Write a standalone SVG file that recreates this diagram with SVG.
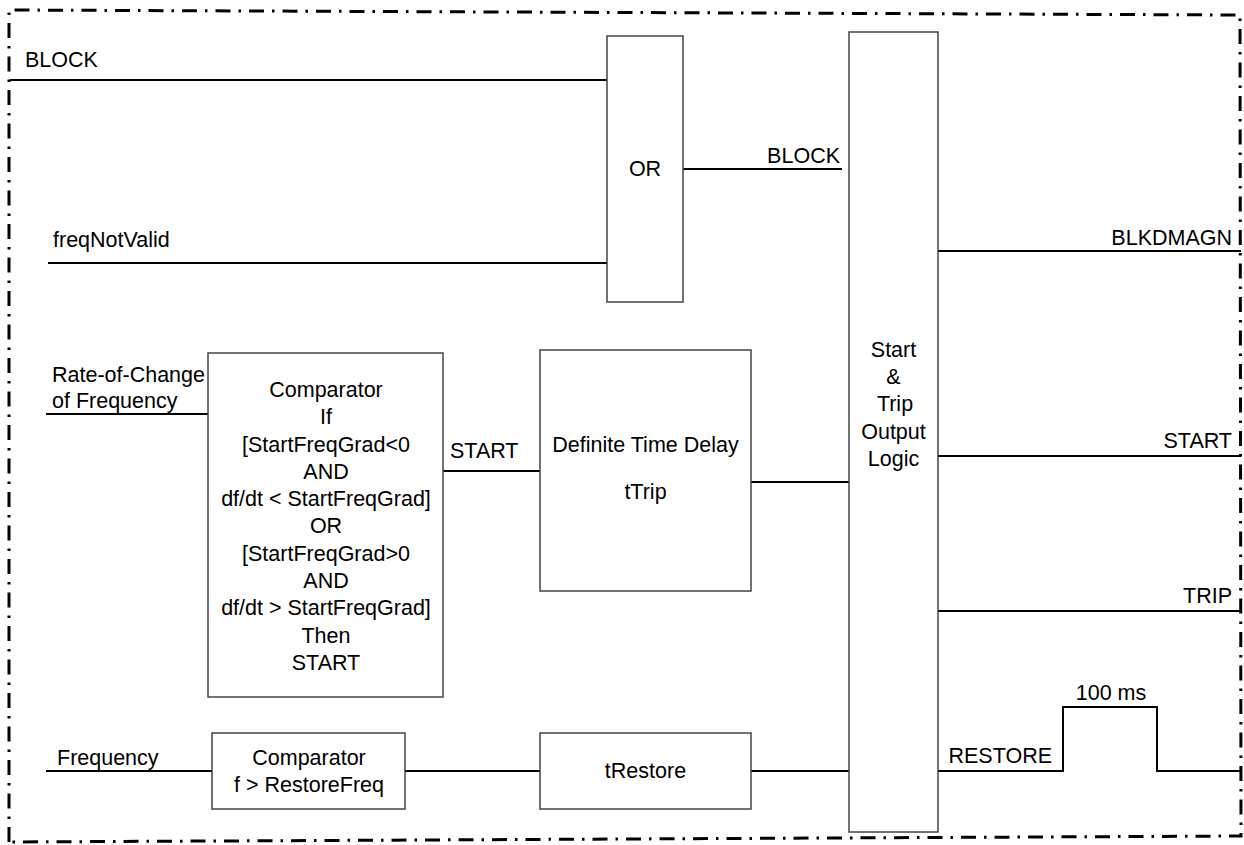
<svg xmlns="http://www.w3.org/2000/svg" width="1244" height="845" viewBox="0 0 1244 845">
<style>
text{font-family:"Liberation Sans",Arial,sans-serif;font-size:21.5px;fill:#000}
.c{text-anchor:middle}
.e{text-anchor:end}
.box{fill:#fff;stroke:#444;stroke-width:1.5}
.w{fill:none;stroke:#000;stroke-width:2}
.border{fill:none;stroke:#000;stroke-width:3;stroke-dasharray:15 8 2.5 8}
</style>
<rect width="1244" height="845" fill="#fff"/>
<path class="border" d="M9,842 L9,10 L1240,15 L1241,836 Z"/>
<g id="connectors">
<path class="w" d="M10,80 H607"/>
<path class="w" d="M48,263 H607"/>
<path class="w" d="M683,169 H842"/>
<path class="w" d="M46,414 H208"/>
<path class="w" d="M443,471 H540"/>
<path class="w" d="M751,482 H849"/>
<path class="w" d="M46,771 H212"/>
<path class="w" d="M405,771 H540"/>
<path class="w" d="M751,771 H849"/>
<path class="w" d="M938,251 H1241"/>
<path class="w" d="M938,456 H1241"/>
<path class="w" d="M938,611 H1241"/>
<path class="w" d="M938,771 H1063 V707 H1157 V771 H1241"/>
<text x="25" y="67">BLOCK</text>
<text x="53" y="247">freqNotValid</text>
<text x="840" y="163" class="e">BLOCK</text>
<text x="52" y="382">Rate-of-Change</text>
<text x="52" y="408">of Frequency</text>
<text x="450" y="458">START</text>
<text x="57" y="765">Frequency</text>
<text x="1232" y="245" class="e">BLKDMAGN</text>
<text x="1232" y="448" class="e">START</text>
<text x="1232" y="603" class="e">TRIP</text>
<text x="1052" y="763" class="e">RESTORE</text>
<text x="1111" y="700" class="c">100 ms</text>
</g>
<g id="or">
<rect class="box" x="607" y="36" width="76" height="266"/>
<text x="645" y="176" class="c">OR</text>
</g>
<g id="output-logic">
<rect class="box" x="849" y="32" width="89" height="800"/>
<text x="893.5" y="357" class="c">Start</text>
<text x="893.5" y="384" class="c">&amp;</text>
<text x="895" y="411" class="c">Trip</text>
<text x="893.5" y="439" class="c">Output</text>
<text x="893.5" y="466" class="c">Logic</text>
</g>
<g id="comparator-rocof">
<rect class="box" x="208" y="353" width="235" height="344"/>
<text x="326" y="397" class="c">Comparator</text>
<text x="326" y="424" class="c">If</text>
<text x="326" y="452" class="c">[StartFreqGrad&lt;0</text>
<text x="326" y="479" class="c">AND</text>
<text x="326" y="506" class="c">df/dt &lt; StartFreqGrad]</text>
<text x="326" y="533" class="c">OR</text>
<text x="326" y="561" class="c">[StartFreqGrad&gt;0</text>
<text x="326" y="588" class="c">AND</text>
<text x="326" y="615" class="c">df/dt &gt; StartFreqGrad]</text>
<text x="326" y="643" class="c">Then</text>
<text x="326" y="670" class="c">START</text>
</g>
<g id="definite-time-delay">
<rect class="box" x="540" y="350" width="211" height="241"/>
<text x="645.5" y="452" class="c">Definite Time Delay</text>
<text x="645.5" y="499" class="c">tTrip</text>
</g>
<g id="comparator-restore">
<rect class="box" x="212" y="733" width="193" height="76"/>
<text x="309" y="765" class="c">Comparator</text>
<text x="309" y="792" class="c">f &gt; RestoreFreq</text>
</g>
<g id="trestore">
<rect class="box" x="540" y="733" width="211" height="76"/>
<text x="645.5" y="778" class="c">tRestore</text>
</g>
</svg>
